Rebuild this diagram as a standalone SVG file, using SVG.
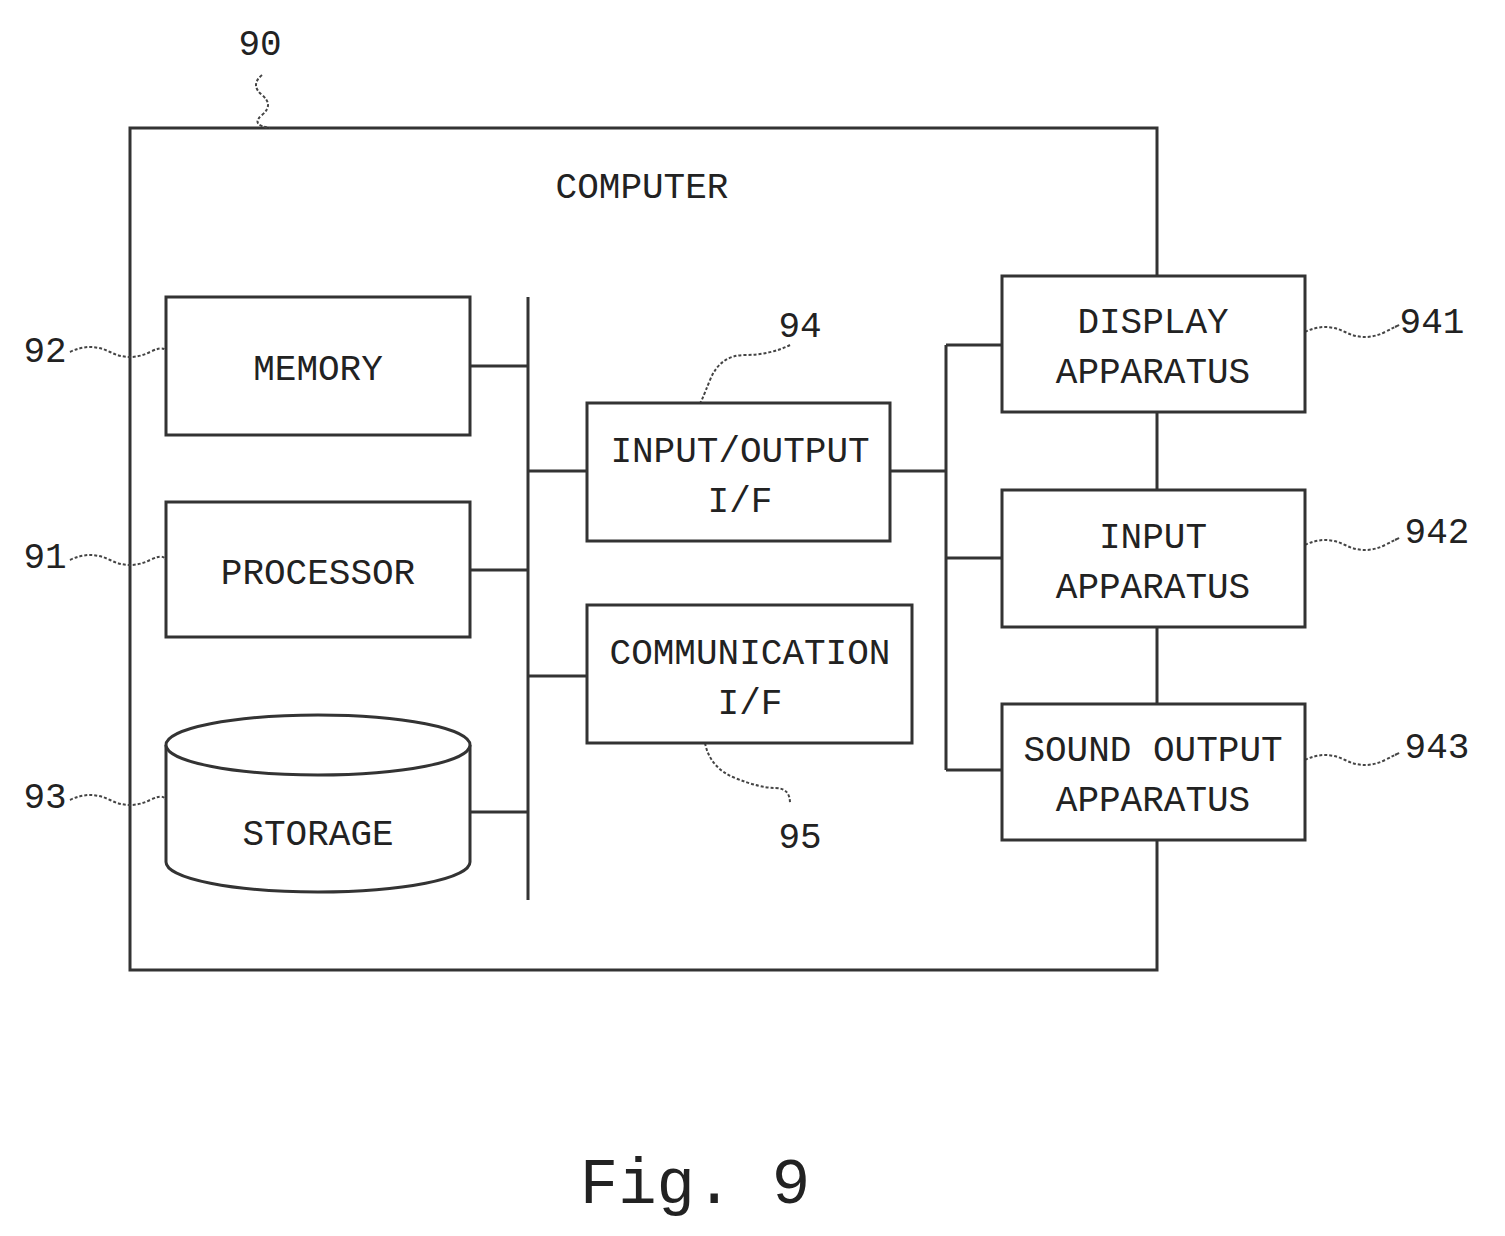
<svg xmlns="http://www.w3.org/2000/svg" width="1505" height="1236" viewBox="0 0 1505 1236">
<style>
.b{fill:#fff;stroke:#333;stroke-width:3}
.l{fill:none;stroke:#333;stroke-width:3}
.w{fill:none;stroke:#444;stroke-width:2;stroke-dasharray:3 2}
text{font-family:"Liberation Mono","DejaVu Sans Mono",monospace;font-size:36px;fill:#222;text-anchor:middle}
</style>
<rect width="1505" height="1236" fill="#fff"/>
<g id="computer"><rect class="b" x="130" y="128" width="1027" height="842"/><text x="642" y="198">COMPUTER</text></g>
<g id="connectors">
<path class="l" d="M528 297V900M470 366H528M470 570H528M470 812H528M528 471H587M528 676H587M890 471H946M946 345V770M946 345H1002M946 558H1002M946 770H1002"/>
<path class="w" d="M262 75q-12 10 0 20t0 20 8 13M70 352q20 -10 40 0t40 0 16 8M70 560q20 -10 40 0t40 0 16 10M70 800q20 -10 40 0t40 0 16 10M790 345q-20 10 -45 10t-35 25-10 23M705 743q5 25 30 35t40 10 15 15M1305 332q20 -10 40 0t40 0 10 -5M1305 545q20 -10 40 0t40 0 10 -5M1305 760q20 -10 40 0t40 0 10 -5"/>
</g>
<g id="memory"><rect class="b" x="166" y="297" width="304" height="138"/><text x="318" y="380">MEMORY</text></g>
<g id="processor"><rect class="b" x="166" y="502" width="304" height="135"/><text x="318" y="584">PROCESSOR</text></g>
<g id="storage"><path class="b" d="M166 745V862A152 30 0 0 0 470 862V745"/><ellipse class="b" cx="318" cy="745" rx="152" ry="30"/><text x="318" y="845">STORAGE</text></g>
<g id="io"><rect class="b" x="587" y="403" width="303" height="138"/><text x="740" y="462">INPUT/OUTPUT</text><text x="740" y="512">I/F</text></g>
<g id="comm"><rect class="b" x="587" y="605" width="325" height="138"/><text x="750" y="664">COMMUNICATION</text><text x="750" y="714">I/F</text></g>
<g id="display"><rect class="b" x="1002" y="276" width="303" height="136"/><text x="1153" y="333">DISPLAY</text><text x="1153" y="383">APPARATUS</text></g>
<g id="input"><rect class="b" x="1002" y="490" width="303" height="137"/><text x="1153" y="548">INPUT</text><text x="1153" y="598">APPARATUS</text></g>
<g id="sound"><rect class="b" x="1002" y="704" width="303" height="136"/><text x="1153" y="761">SOUND OUTPUT</text><text x="1153" y="811">APPARATUS</text></g>
<g id="labels">
<text x="260" y="55">90</text><text x="45" y="362">92</text><text x="45" y="568">91</text><text x="45" y="808">93</text>
<text x="800" y="337">94</text><text x="800" y="848">95</text>
<text x="1432" y="333">941</text><text x="1437" y="543">942</text><text x="1437" y="758">943</text>
<text x="695" y="1203" style="font-size:64px">Fig. 9</text>
</g>
</svg>
